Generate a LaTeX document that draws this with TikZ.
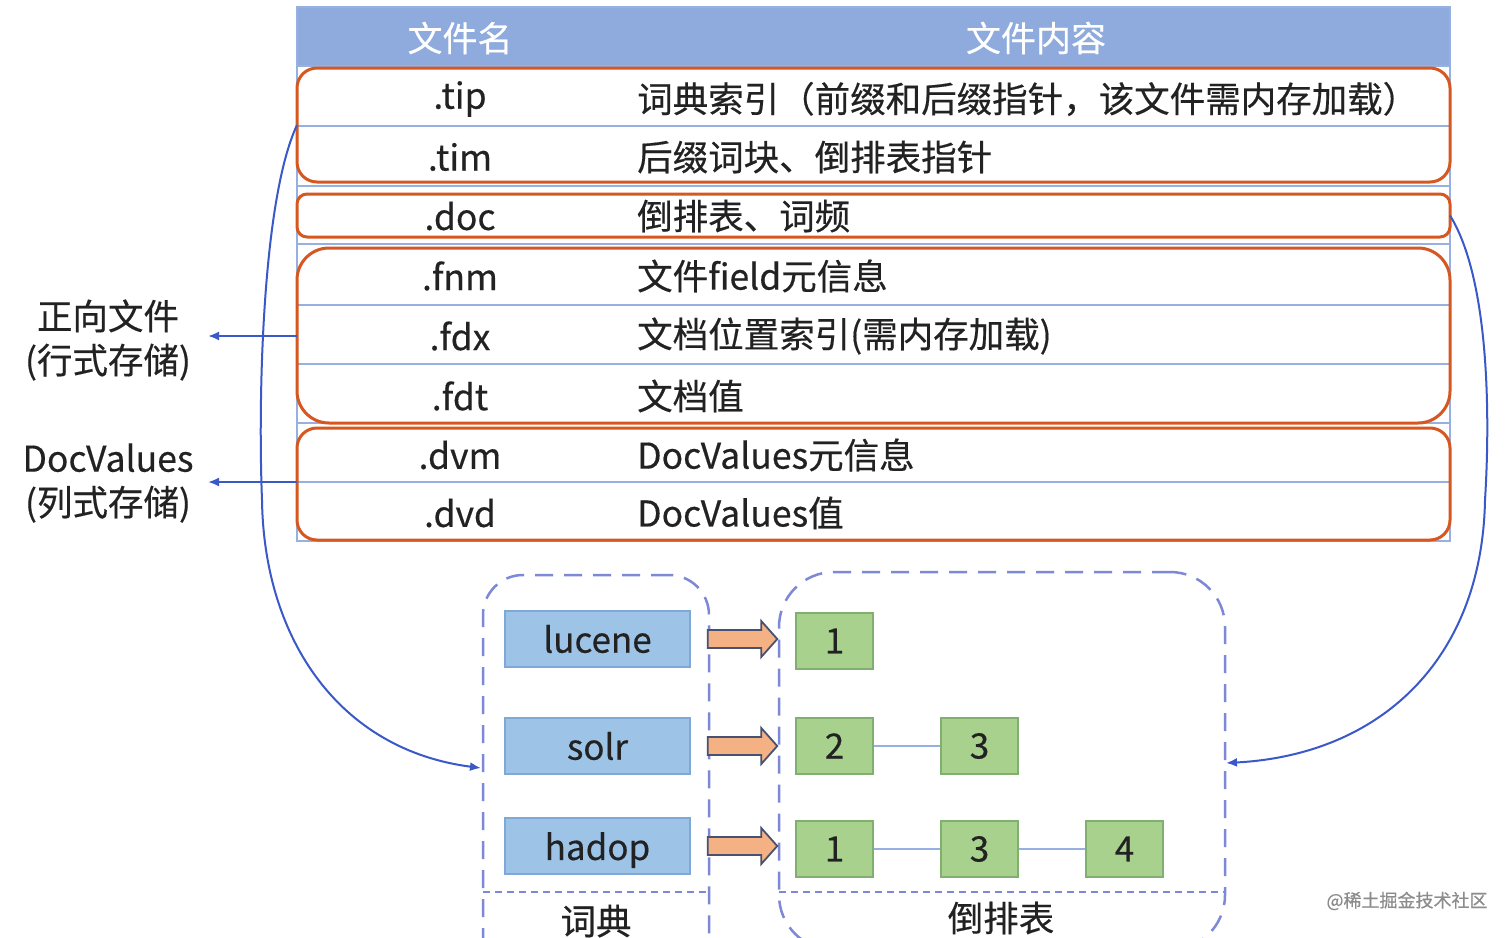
\documentclass[tikz,border=0pt]{standalone}
\usepackage{fontspec}
\setmainfont{Noto Sans CJK SC}[FakeBold=0.4]
\usetikzlibrary{arrows.meta,calc}
\definecolor{hdr}{RGB}{143,170,220}
\definecolor{tline}{RGB}{150,176,226}
\definecolor{orng}{RGB}{214,88,32}
\definecolor{cblue}{RGB}{58,88,200}
\definecolor{dashc}{RGB}{125,136,214}
\definecolor{termfill}{RGB}{157,195,230}
\definecolor{termdraw}{RGB}{128,168,214}
\definecolor{gfill}{RGB}{169,209,142}
\definecolor{gdraw}{RGB}{128,176,112}
\definecolor{afill}{RGB}{244,177,131}
\definecolor{adraw}{RGB}{72,82,112}
\definecolor{txt}{RGB}{34,34,34}
\begin{document}
\begin{tikzpicture}[x=1pt,y=-1pt,
  fnt/.style={font=\fontsize{35.5}{44}\selectfont,text=txt,inner sep=0pt},
  fname/.style={fnt,anchor=center},
  fdesc/.style={fnt,anchor=west},
  hdrtext/.style={font=\fontsize{35}{40}\selectfont,text=white,inner sep=0pt},
  grp/.style={draw=orng,line width=3pt,rounded corners=#1,minimum width=1153pt,inner sep=0pt,outer sep=0pt},
  tl/.style={draw=tline,line width=2pt},
  curve/.style={draw=cblue,line width=2pt,-{Latex[length=11pt,width=9pt]}},
  dbox/.style={draw=dashc,line width=2.5pt,dash pattern=on 18pt off 11pt,inner sep=0pt,outer sep=0pt},
  dsep/.style={draw=dashc,line width=2pt,dash pattern=on 7pt off 5pt},
  term/.style={draw=termdraw,fill=termfill,line width=1.5pt,minimum width=185pt,minimum height=56pt,inner sep=0pt,font=\fontsize{35}{40}\selectfont,text=txt},
  post/.style={draw=gdraw,fill=gfill,line width=1.5pt,minimum width=77pt,minimum height=56pt,inner sep=0pt,font=\fontsize{35}{40}\selectfont,text=txt},
  link/.style={draw=tline,line width=1.8pt},
  barrow/.style={draw=adraw,fill=afill,line width=1.8pt,line join=miter}
]
\useasboundingbox (0,0) rectangle (1512,937);
\clip (0,0) rectangle (1512,937);
\fill[white] (0,0) rectangle (1512,937);

% ---- table ----
\fill[hdr] (297,7) rectangle (1450,66);
\node[hdrtext] (h1) at (460,38) {文件名};
\node[hdrtext] (h2) at (1036,38) {文件内容};
\draw[tl] (297,7) rectangle (1450,541);
\foreach \yy in {66,126,186,244,305,364,423,482} \draw[tl] (297,\yy) -- (1450,\yy);

\node[grp=20pt,minimum height=114pt] (g1) at (873.5,125) {};
\node[grp=10pt,minimum height=43pt] (g2) at (873.5,215.5) {};
\node[grp=32pt,minimum height=175pt] (g3) at (873.5,335.5) {};
\node[grp=20pt,minimum height=112pt] (g4) at (873.5,484) {};

\node[fname] (ftip) at (460,99) {.tip};
\node[fname] (ftim) at (460,157) {.tim};
\node[fname] (fdoc) at (460,216) {.doc};
\node[fname] (ffnm) at (460,276) {.fnm};
\node[fname] (ffdx) at (460,336) {.fdx};
\node[fname] (ffdt) at (460,396) {.fdt};
\node[fname] (fdvm) at (460,455) {.dvm};
\node[fname] (fdvd) at (460,513) {.dvd};

\node[fdesc] (dtip) at (637,99) {词典索引（前缀和后缀指针，该文件需内存加载）};
\node[fdesc] (dtim) at (637,157) {后缀词块、倒排表指针};
\node[fdesc] (ddoc) at (637,216) {倒排表、词频};
\node[fdesc] (dfnm) at (637,276) {文件field元信息};
\node[fdesc] (dfdx) at (637,336) {文档位置索引(需内存加载)};
\node[fdesc] (dfdt) at (637,396) {文档值};
\node[fdesc] (ddvm) at (637,455) {DocValues元信息};
\node[fdesc] (ddvd) at (637,513) {DocValues值};

% ---- left labels ----
\node[fnt,align=center] (lab1) at (108,340) {正向文件\\(行式存储)};
\node[fnt,align=center] (lab2) at (108,483) {DocValues\\(列式存储)};
\coordinate (a1) at (208,336);
\coordinate (a2) at (208,482);
\draw[curve] (g3.west |- a1) -- (a1);
\draw[curve] (g4.west |- a2) -- (a2);

% ---- dictionary & postings ----
\node[dbox,minimum width=226pt,minimum height=405pt,rounded corners=40pt] (dict) at (596,777.5) {};
\node[dbox,minimum width=446pt,minimum height=378pt,rounded corners=55pt] (inv) at (1002,761) {};
\coordinate (sepy) at (0,892);
\draw[dsep] (dict.west |- sepy) -- (dict.east |- sepy);
\draw[dsep] (inv.west |- sepy) -- (inv.east |- sepy);
\node[fnt] (ldict) at (596,921) {词典};
\node[fnt] (linv) at (1001,918) {倒排表};

\node[term] (t1) at (597.5,639) {lucene};
\node[term] (t2) at (597.5,746) {solr};
\node[term] (t3) at (597.5,846) {\raisebox{0pt}[\height][0pt]{hadop}};

\node[post] (p11) at (834.5,641) {1};
\node[post] (p21) at (834.5,746) {2};
\node[post] (p22) at (979.5,746) {3};
\node[post] (p31) at (834.5,849) {1};
\node[post] (p32) at (979.5,849) {3};
\node[post] (p33) at (1124.5,849) {4};
\draw[link] (p21) -- (p22);
\draw[link] (p31) -- (p32);
\draw[link] (p32) -- (p33);

\foreach \i/\p in {1/p11,2/p21,3/p31}{
  \coordinate (s\i) at ($(t\i.east)+(17,0)$);
  \coordinate (e\i) at ($(s\i -| \p.west)+(-18,0)$);
  \draw[barrow] ($(s\i)+(0,-9)$) -- ($(e\i)+(-16,-9)$) -- ($(e\i)+(-16,-18)$) -- (e\i)
     -- ($(e\i)+(-16,18)$) -- ($(e\i)+(-16,9)$) -- ($(s\i)+(0,9)$) -- cycle;
}

% ---- long curves ----
\coordinate (dictin) at (481,768);
\coordinate (invin) at (1226,763);
\draw[curve] (g1.west) .. controls (262,200) and (258,400) .. (262,500)
   .. controls (264,640) and (340,750) .. (dictin);
\draw[curve] (g2.east) .. controls (1490,280) and (1490,420) .. (1485,500)
   .. controls (1482,660) and (1380,755) .. (invin);

% ---- watermark ----
\node[font=\fontsize{18}{20}\selectfont,text=black!45,inner sep=0pt] (wm) at (1407,901) {@稀土掘金技术社区};
\end{tikzpicture}
\end{document}
